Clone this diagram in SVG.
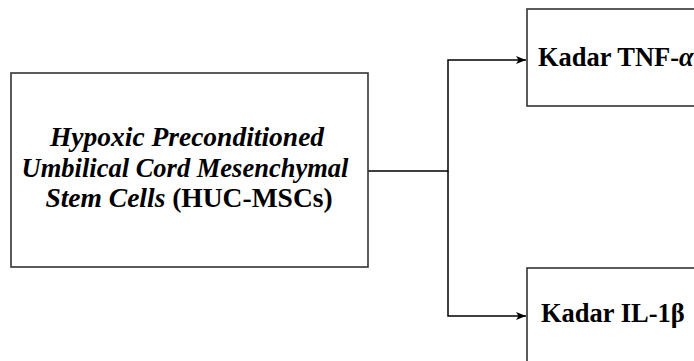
<svg xmlns="http://www.w3.org/2000/svg" width="694" height="361" viewBox="0 0 694 361">
<style>
.box{fill:#fff;stroke:#333;stroke-width:1.6}
.t{font-family:"Liberation Serif","Times New Roman",serif;font-weight:bold;fill:#000}
.c{fill:none;stroke:#000;stroke-width:1.5}
</style>
<defs>
<marker id="ah" markerWidth="11" markerHeight="10" refX="10" refY="5" orient="auto" markerUnits="userSpaceOnUse">
<path d="M0,1 L10,5 L0,9 L2.5,5 Z" fill="#000"/>
</marker>
</defs>
<rect width="694" height="361" fill="#fff"/>
<g id="connectors">
<path class="c" d="M368,171 H448 V60 H526" marker-end="url(#ah)"/>
<path class="c" d="M448,171 V316 H526" marker-end="url(#ah)"/>
</g>
<g id="main">
<rect class="box" x="11" y="73" width="357" height="194"/>
<text class="t" font-size="27.5" text-anchor="middle" font-style="italic" x="187" y="146">Hypoxic Preconditioned</text>
<text class="t" font-size="26.5" text-anchor="middle" font-style="italic" x="185" y="177">Umbilical Cord Mesenchymal</text>
<text class="t" font-size="27.5" text-anchor="middle" x="189" y="207"><tspan font-style="italic">Stem Cells</tspan> (HUC-MSCs)</text>
</g>
<g id="tnf">
<rect class="box" x="527" y="9" width="200" height="97"/>
<text class="t" font-size="26.5" x="538" y="66">Kadar TNF-<tspan font-style="italic">α</tspan></text>
</g>
<g id="il1b">
<rect class="box" x="527" y="268" width="200" height="120"/>
<text class="t" font-size="26.5" x="541" y="322">Kadar IL-1β</text>
</g>
</svg>
